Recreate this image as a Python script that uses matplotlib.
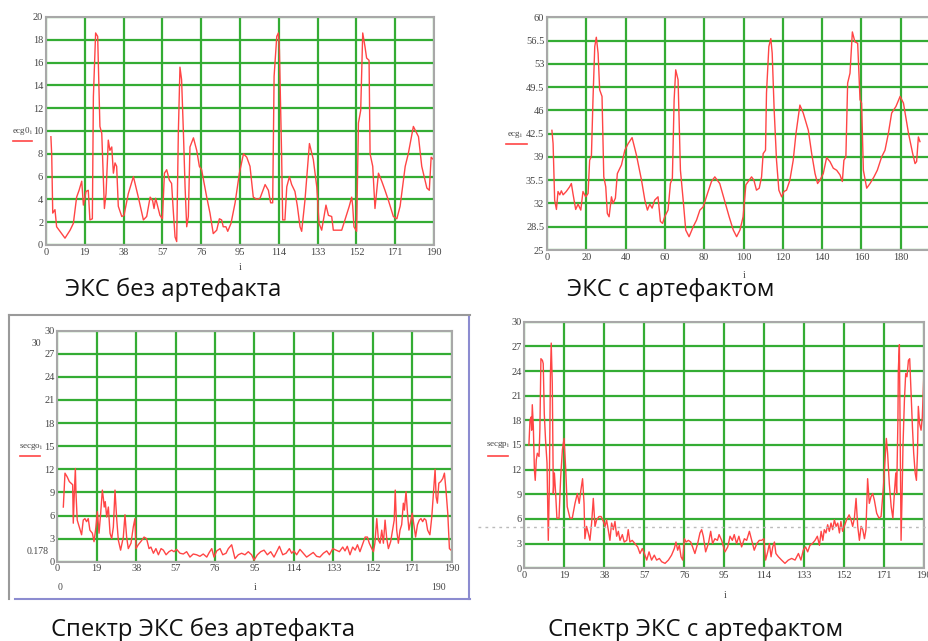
import matplotlib
matplotlib.use("Agg")
import matplotlib.pyplot as plt
from matplotlib.lines import Line2D
import numpy as np

W, H = 929, 641

# ---------------- data ----------------
titles = ["ЭКС без артефакта", "ЭКС с артефактом",
          "Спектр ЭКС без артефакта", "Спектр ЭКС с артефактом"]

x1 = [2.4, 2.8, 3.3, 4.4, 5.2, 9.3, 11.8, 13.4, 15, 16.2, 17.5, 18.3, 19.6, 20.7, 21.5, 22.7,
      23.2, 24.3, 25.3, 26.4, 27.3, 28.6, 29.4, 30.5, 31.3, 32.2, 33, 33.8, 34.6, 35.4, 37.1,
      38.2, 40.3, 42.8, 45.2, 47.7, 49.3, 51, 52.2, 52.9, 53.7, 54.7, 55.8, 57, 58, 59.1, 60.4,
      61.5, 62.4, 63.2, 64, 64.8, 65.6, 66.4, 67.3, 68.1, 68.9, 69.7, 70.5, 72.2, 73.8, 75.1,
      76.2, 78.7, 80.3, 81.9, 83.6, 84.9, 86, 86.8, 88.1, 89, 90.6, 92.6, 94.7, 96.7, 98.3,
      99.9, 101.5, 103.2, 104.8, 107.3, 108.9, 110, 111, 111.7, 113, 113.8, 114.3, 115.4,
      115.9, 117, 117.9, 119.2, 120.3, 121.9, 123.1, 124.4, 125.2, 126.8, 129, 130.9, 132.6,
      133.7, 135, 137.1, 138.3, 139.9, 140.7, 144.8, 146.4, 148.5, 149.7, 150.2, 150.8, 152.1,
      153, 154.1, 155.1, 156.2, 157, 158.2, 158.7, 160, 161.1, 162.8, 164.4, 166, 167.7, 170.1,
      171.8, 173.4, 175.9, 177.4, 179.9, 182.4, 184, 186.5, 187.7, 188.6, 189.7]
y1 = [9.5, 7.9, 2.8, 3.1, 1.6, 0.6, 1.3, 1.9, 4.2, 4.8, 5.6, 3.5, 4.7, 4.8, 2.2, 2.3,
      13, 18.6, 18.3, 10.4, 9.8, 3.2, 4.5, 9.2, 8.3, 8.6, 6.3, 7.2, 6.9, 3.4, 2.5,
      2.6, 4.5, 6.0, 4.2, 2.2, 2.5, 4.2, 3.9, 3.2, 4.1, 3.4, 2.6, 2.3, 6.3, 6.6, 5.7,
      5.4, 2.8, 0.7, 0.3, 9.8, 15.6, 14.5, 9.8, 5.1, 1.6, 2.5, 8.6, 9.4, 8.3, 6.9,
      6.6, 4.2, 2.8, 1.0, 1.3, 2.3, 2.2, 1.6, 1.6, 1.2, 1.9, 3.7, 6.3, 8.0, 7.7,
      6.9, 4.2, 4.0, 4.1, 5.3, 4.8, 3.7, 3.7, 14.8, 18.3, 18.6, 17.1, 7.7,
      2.2, 2.2, 5.1, 6.0, 5.3, 4.7, 3.4, 1.6, 1.2, 3.9, 8.9, 7.5, 5.1,
      1.9, 1.3, 3.5, 2.6, 2.5, 1.3, 1.3, 2.2, 3.4, 4.2, 3.4, 1.6, 1.2,
      10.7, 11.8, 18.6, 17.4, 16.4, 16.2, 8.0, 6.9, 3.2, 6.3, 5.6, 4.8, 3.9, 2.5,
      2.3, 3.4, 6.9, 8.0, 10.4, 9.5, 6.9, 5.0, 4.8, 7.7, 7.5]

x2 = [2.5, 3.1, 3.9, 4.8, 5.6, 6.5, 7.3, 8.2, 9.8, 11.5, 12.4, 13.2, 14.6, 15.8, 17.2, 18.3,
      19.7, 20.9, 21.7, 22.6, 23.4, 24.3, 25.1, 26.0, 26.8, 28.0, 28.9, 29.9, 30.7, 31.6, 32.8,
      33.6, 34.8, 35.8, 37.9, 39.6, 41.3, 43.3, 45.5, 48.1, 49.8, 51.1, 52.3, 53.5, 54.8, 56.5,
      57.7, 58.8, 59.9, 61.6, 62.8, 63.8, 64.7, 65.5, 66.7, 67.9, 69.3, 70.6, 72.3, 74.4, 76.1,
      77.8, 79.5, 82.0, 83.7, 85.4, 87.9, 90.5, 92.7, 94.8, 96.5, 98.2, 99.8, 101.2, 102.4,
      104.1, 105.3, 106.6, 108.0, 109.2, 110.0, 111.2, 111.7, 112.9, 113.9, 114.6, 115.6,
      116.8, 118.0, 119.4, 120.6, 121.9, 123.6, 125.3, 126.7, 128.7, 130.4, 133.0, 134.7,
      136.4, 137.7, 138.9, 140.6, 142.3, 144.0, 145.7, 147.4, 149.1, 150.3, 151.1, 152.1,
      153.0, 154.2, 155.4, 156.7, 158.1, 159.3, 160.1, 161.0, 162.7, 164.4, 166.4, 168.1,
      170.3, 172.0, 173.7, 175.4, 177.6, 179.7, 181.4, 184.0, 186.1, 187.3, 188.1, 189.0, 189.8]
y2 = [43.0, 41.0, 32.5, 31.1, 33.8, 33.3, 33.9, 33.3, 33.8, 34.5, 35.0, 33.5, 31.1, 31.9, 31.0, 33.8,
      33.0, 33.5, 38.5, 39.1, 47.6, 55.6, 57.0, 54.6, 49.1, 48.1, 36.0, 34.5, 30.5, 30.0, 33.0,
      32.0, 32.8, 36.5, 37.8, 40.0, 41.0, 41.9, 39.3, 35.5, 32.5, 31.0, 31.9, 31.3, 32.5, 33.0,
      29.3, 29.0, 30.0, 31.0, 35.0, 35.8, 47.6, 52.1, 50.6, 37.0, 32.5, 28.0, 27.0, 28.5, 29.5,
      31.0, 31.5, 33.8, 35.3, 36.0, 35.0, 32.3, 30.0, 28.0, 27.0, 28.0, 30.0, 34.8, 35.3,
      36.0, 35.5, 34.0, 34.3, 36.0, 39.5, 40.0, 48.6, 55.6, 56.8, 54.6, 46.1,
      38.5, 34.0, 33.0, 33.8, 34.0, 35.5, 38.5, 42.5, 46.8, 45.6, 43.0, 39.5,
      36.5, 35.0, 35.5, 36.5, 38.9, 38.3, 37.3, 37.0, 36.3, 35.3, 38.5, 39.0,
      50.1, 51.6, 57.8, 56.3, 56.1, 47.6, 47.1, 37.0, 34.3, 35.0, 36.0, 37.0,
      39.0, 40.0, 42.5, 45.6, 46.6, 48.1, 47.1, 42.5, 39.5, 38.0, 38.3, 42.0, 41.3]

x3 = [2.9, 3.7, 4.8, 5.8, 6.6, 7.4, 7.7, 8.2, 8.7, 9.0, 9.6, 10.6, 11.7, 12.5, 13.3, 14.1,
      14.9, 15.7, 16.9, 17.7, 18.6, 19.3, 20.1, 20.9, 21.7, 22.2, 22.6, 23.1, 23.8, 24.6, 25.4,
      26.2, 27.0, 27.8, 28.6, 29.4, 30.5, 31.8, 32.6, 33.4, 34.2, 35.5, 36.6, 37.4, 37.9, 39.0,
      40.2, 41.8, 43.0, 44.2, 45.1, 46.3, 47.5, 48.7, 50.0, 51.1, 52.4, 53.8, 55.1, 56.2, 57.5,
      59.1, 60.7, 62.3, 63.9, 65.5, 67.1, 68.7, 70.3, 72.0, 73.2, 74.4, 75.5, 76.8, 78.4, 79.7,
      81.3, 82.4, 84.0, 85.6, 87.2, 88.8, 90.4, 92.0, 93.6, 94.8, 96.4, 98.0, 99.6, 101.2,
      102.8, 104.4, 105.7, 107.0, 108.6, 110.2, 111.8, 112.9, 114.0, 115.3, 116.9, 118.5,
      120.1, 121.7, 123.3, 124.9, 126.5, 128.2, 129.8, 131.1, 132.7, 134.3, 135.9, 137.5,
      138.6, 139.7, 141.0, 142.3, 143.5, 144.6, 145.8, 147.0, 148.3, 149.4, 150.3, 151.5,
      152.3, 153.0, 153.9, 154.7, 155.5, 156.3, 157.1, 157.9, 158.7, 159.5, 160.6, 161.6,
      162.3, 162.8, 163.5, 164.3, 165.1, 165.9, 166.7, 167.2, 168.0, 168.7, 169.4, 170.2,
      171.0, 171.8, 172.6, 173.5, 174.4, 175.2, 176.0, 176.8, 177.6, 178.4, 179.5, 180.4,
      181.2, 182.0, 182.5, 183.1, 183.8, 184.7, 185.7, 186.5, 187.3, 188.1, 188.9, 189.7]
y3 = [7.1, 11.5, 11.0, 10.4, 10.2, 10.0, 5.0, 8.9, 12.1, 8.9, 5.4, 4.5, 3.5, 5.4, 5.6, 5.2,
      5.6, 4.1, 3.7, 2.6, 4.5, 6.5, 3.7, 6.3, 9.3, 8.2, 7.1, 7.8, 5.8, 7.1, 3.7,
      3.0, 4.5, 9.3, 5.6, 2.8, 1.5, 3.2, 6.1, 3.2, 1.7, 2.4, 4.5, 5.6, 1.7, 2.2,
      2.6, 3.2, 3.0, 1.7, 1.9, 1.1, 1.7, 0.9, 1.7, 1.5, 0.9, 1.3, 1.5, 1.3, 1.6,
      1.1, 1.0, 1.3, 0.6, 1.0, 0.9, 0.7, 1.0, 0.6, 1.2, 1.7, 0.6, 1.4, 1.7, 0.9,
      1.1, 1.7, 2.2, 0.4, 0.9, 1.1, 0.9, 1.3, 0.9, 0.2, 0.9, 1.3, 1.5, 0.9,
      1.3, 0.6, 1.3, 2.0, 0.9, 1.1, 1.7, 1.1, 1.4, 0.9, 1.6, 1.1,
      0.6, 0.9, 1.2, 0.7, 0.6, 1.1, 1.4, 0.9, 1.7, 1.5, 1.3, 1.9,
      1.4, 2.0, 0.9, 1.9, 1.5, 2.2, 1.3, 2.2, 3.2, 3.2, 2.4, 1.7,
      1.3, 2.4, 5.6, 2.8, 2.4, 4.1, 2.4, 5.4, 3.0, 1.7, 2.6, 4.3,
      5.4, 9.3, 4.1, 2.4, 4.1, 4.8, 7.6, 6.7, 9.1, 6.3, 4.1, 5.2,
      6.3, 4.8, 3.2, 4.8, 5.4, 5.6, 5.2, 5.6, 5.4, 4.1, 3.5, 5.8,
      8.9, 12.0, 8.4, 7.6, 10.2, 10.4, 10.8, 11.5, 9.1, 6.3, 1.7, 1.5]

x4 = [2.2, 2.7, 3.2, 3.5, 3.8, 4.3, 4.8, 5.2, 5.7, 6.2, 7.0, 7.4, 7.9, 8.6, 9.0, 9.5, 10.1,
      10.8, 11.4, 11.9, 12.4, 12.8, 13.3, 13.8, 14.3, 14.9, 15.5, 16.5, 17.3, 18.1, 18.9, 19.7,
      20.4, 21.7, 22.8, 24.1, 25.2, 26.1, 26.9, 27.7, 28.4, 28.8, 29.6, 30.4, 31.2, 32.0, 32.8,
      33.6, 34.4, 35.5, 36.5, 37.6, 38.4, 39.1, 39.9, 40.7, 41.5, 42.3, 43.1, 43.9, 44.7, 45.5,
      46.6, 47.5, 48.7, 49.4, 50.2, 51.3, 52.6, 53.9, 55.0, 56.1, 57.1, 58.2, 59.3, 60.5, 61.8,
      62.9, 64.2, 65.3, 66.9, 68.5, 70.0, 71.3, 72.1, 72.9, 73.7, 74.5, 75.3, 76.1, 76.9, 78.0,
      79.1, 80.0, 81.1, 82.4, 83.5, 84.3, 85.1, 86.2, 87.5, 88.6, 89.5, 90.6, 91.8, 92.6,
      93.8, 95.4, 96.7, 97.8, 98.9, 99.8, 100.9, 102.0, 103.3, 104.6, 105.7, 107.0, 108.1,
      109.3, 110.5, 111.7, 112.8, 113.9, 114.7, 115.7, 116.5, 117.3, 118.1, 118.9, 119.6,
      120.8, 122.3, 123.9, 125.5, 127.1, 128.7, 130.3, 131.5, 132.6, 133.7, 134.7, 135.8,
      136.9, 138.2, 139.3, 140.3, 141.1, 141.9, 142.6, 143.4, 144.2, 145.0, 145.8, 146.6,
      147.4, 148.2, 149.0, 149.8, 150.5, 151.3, 152.1, 153.2, 154.4, 155.3, 156.1, 156.9,
      157.7, 158.5, 159.3, 160.1, 160.9, 161.7, 162.4, 163.2, 164.0, 164.8, 165.6, 166.4,
      167.5, 168.6, 169.6, 170.7, 171.5, 172.1, 172.7, 173.5, 174.4, 175.2, 176.0, 176.6,
      177.0, 177.6, 177.8, 178.3, 178.6, 179.1, 179.6, 180.0, 180.7, 181.3, 181.9, 182.6,
      183.2, 183.8, 184.5, 185.1, 185.8, 186.4, 186.9, 187.3, 187.9, 188.6, 189.2, 189.8, 190.0]
y4 = [15.0, 18.0, 18.4, 16.8, 19.9, 17.2, 12.0, 10.7, 13.2, 14.0, 13.6, 16.8, 25.5, 25.3, 24.9, 18.8, 15.6,
      12.8, 3.4, 9.9, 23.3, 27.4, 22.5, 9.1, 11.6, 9.1, 6.1, 6.1, 11.1, 14.4, 15.8, 12.0,
      7.5, 6.1, 6.1, 7.9, 9.1, 7.9, 9.5, 10.9, 7.9, 3.6, 5.1, 4.3, 3.4, 5.5, 8.5,
      5.1, 5.9, 6.3, 6.3, 5.7, 5.1, 5.9, 4.7, 3.4, 5.5, 4.7, 5.7, 3.9, 4.5, 3.4,
      4.1, 3.2, 3.4, 4.7, 3.2, 3.4, 3.0, 2.6, 1.8, 2.4, 1.8, 1.0, 2.0, 1.0, 1.6,
      1.0, 1.2, 0.8, 0.6, 1.0, 1.6, 2.4, 3.2, 2.2, 2.8, 1.4, 1.0, 3.6, 3.2, 3.4,
      3.2, 2.6, 1.8, 3.0, 4.3, 4.7, 3.9, 2.0, 3.0, 4.5, 3.0, 3.6, 3.4, 4.1,
      3.4, 2.0, 2.6, 3.9, 3.4, 4.1, 3.0, 3.9, 2.6, 3.6, 3.4, 4.5, 3.4,
      2.2, 3.0, 3.4, 3.4, 3.6, 1.0, 2.0, 3.0, 1.4, 2.6, 3.2, 1.8,
      1.4, 1.0, 0.6, 1.0, 1.2, 1.0, 1.8, 1.0, 2.2, 2.6, 2.0, 2.8,
      3.0, 3.4, 3.9, 2.8, 4.5, 3.4, 4.7, 4.3, 5.3, 4.5, 5.5, 4.7,
      5.9, 5.1, 5.5, 4.3, 5.7, 4.5, 5.1, 5.9, 6.5, 5.9, 5.1, 6.1,
      8.5, 5.1, 3.4, 5.1, 4.7, 3.6, 4.7, 10.9, 7.9, 8.7, 9.1, 8.3,
      6.7, 6.1, 6.3, 9.9, 13.2, 15.8, 14.0, 10.3, 7.5, 6.1, 9.5, 11.6,
      9.1, 18.0, 24.1, 27.2, 18.8, 3.4, 9.1, 14.8, 20.5, 23.7, 23.3, 25.3,
      25.5, 21.7, 17.2, 14.0, 11.6, 10.7, 14.0, 19.7, 17.6, 16.8, 18.4, 22.9, 24.1]

xticks1 = [0, 19, 38, 57, 76, 95, 114, 133, 152, 171, 190]
yticks1 = [0, 2, 4, 6, 8, 10, 12, 14, 16, 18, 20]
xticks2 = [0, 20, 40, 60, 80, 100, 120, 140, 160, 180]
yticks2 = [25, 28.5, 32, 35.5, 39, 42.5, 46, 49.5, 53, 56.5, 60]
yticks34 = [0, 3, 6, 9, 12, 15, 18, 21, 24, 27, 30]

# ---------------- styling ----------------
GRID = "#34ac34"
FRAME = "#a8a8a8"
TRACE = "#ff4545"
TICKC = "#444444"
SERIF = ["Liberation Serif", "DejaVu Serif"]
SANS = ["Open Sans", "DejaVu Sans"]

fig = plt.figure(figsize=(W / 100, H / 100), dpi=100)
fig.patch.set_facecolor("white")


def add_ax(l, t, r, b):
    return fig.add_axes([l / W, 1 - b / H, (r - l) / W, (b - t) / H])


def style(ax, xt, yt, xlim, ylim, ylabels=None):
    ax.set_xlim(*xlim)
    ax.set_ylim(*ylim)
    ax.set_xticks(xt)
    ax.set_yticks(yt)
    if ylabels is not None:
        ax.set_yticklabels(ylabels)
    ax.grid(True, color=GRID, lw=1.6)
    ax.set_axisbelow(True)
    ax.tick_params(length=0, pad=2, labelsize=7.5, colors=TICKC)
    for lab in ax.get_xticklabels() + ax.get_yticklabels():
        lab.set_fontfamily(SERIF)
    for s in ax.spines.values():
        s.set_color(FRAME)
        s.set_linewidth(1.5)


def ftext(x, y, s, **kw):
    fig.text(x / W, 1 - y / H, s, **kw)


def fline(x0, x1_, y0, y1_, **kw):
    fig.add_artist(Line2D([x0 / W, x1_ / W], [1 - y0 / H, 1 - y1_ / H], **kw))


# Plot 1
ax1 = add_ax(46, 17, 434, 245)
style(ax1, xticks1, yticks1, (0, 190), (0, 20))
ax1.plot(x1, y1, color=TRACE, lw=1.0)

# Plot 2
ax2 = add_ax(547, 17.3, 547 + 200 * 1.965, 250)
style(ax2, xticks2, yticks2, (0, 200), (25, 60),
      ylabels=["25", "28.5", "32", "35.5", "39", "42.5", "46", "49.5", "53", "56.5", "60"])
ax2.spines["right"].set_visible(False)
ax2.plot(x2, y2, color=TRACE, lw=1.0)

# Plot 3
ax3 = add_ax(57.3, 330.7, 451.7, 561.7)
style(ax3, xticks1, yticks34, (0, 190), (0, 30))
ax3.plot(x3, y3, color=TRACE, lw=1.0)

# Plot 4
ax4 = add_ax(524.3, 321.7, 924, 568.3)
style(ax4, xticks1, yticks34, (0, 190), (0, 30))
ax4.plot(x4, y4, color=TRACE, lw=1.0)

# y labels (Mathcad style with trace sample underneath)
lab_kw = dict(fontsize=6.5, color=TICKC, family=SERIF, va="center", ha="left")
ftext(12, 131, r"ecg0$_\mathregular{i}$", **lab_kw)
fline(13, 32, 141, 141, color=TRACE, lw=1.2)
ftext(507, 134, r"ecg$_\mathregular{i}$", **lab_kw)
fline(506, 527, 144, 144, color=TRACE, lw=1.2)
ftext(19, 446, r"secgo$_\mathregular{i}$", **lab_kw)
fline(20, 40, 456, 456, color=TRACE, lw=1.2)
ftext(486, 444, r"secgp$_\mathregular{i}$", **lab_kw)
fline(488, 508, 456, 456, color=TRACE, lw=1.2)

# axis variable "i"
ik = dict(fontsize=7, color=TICKC, family=SERIF, ha="center", va="center")
ftext(240, 268, "i", **ik)
ftext(744, 275, "i", **ik)
ftext(255, 587, "i", **ik)
ftext(725, 595, "i", **ik)

# extra Mathcad range labels in plot 3
ftext(36, 343, "30", **ik)
ftext(38, 551, "0.178", **ik)
ftext(60, 587, "0", **ik)
ftext(439, 587, "190", **ik)

# frame around plot 3
fline(9.5, 470, 315, 315, color="#9a9a9a", lw=1.5)
fline(9.5, 9.5, 315, 599, color="#9a9a9a", lw=1.5)
fline(15, 470, 599, 599, color="#8c8cd0", lw=1.5)
fline(469, 469, 317, 599, color="#8c8cd0", lw=1.5)

# dotted guide in plot 4
fline(478, 929, 527, 527, color="#bbbbbb", lw=1.0, ls=(0, (2, 3)))

# titles
tk = dict(fontsize=17.2, color="#111111", family=SANS, ha="center", va="baseline")
ftext(173.5, 296, titles[0], **tk)
ftext(671, 296, titles[1], **tk)
ftext(203.5, 636, titles[2], **tk)
ftext(695.5, 636, titles[3], **tk)

fig.savefig("out.png", dpi=100, facecolor="white")
